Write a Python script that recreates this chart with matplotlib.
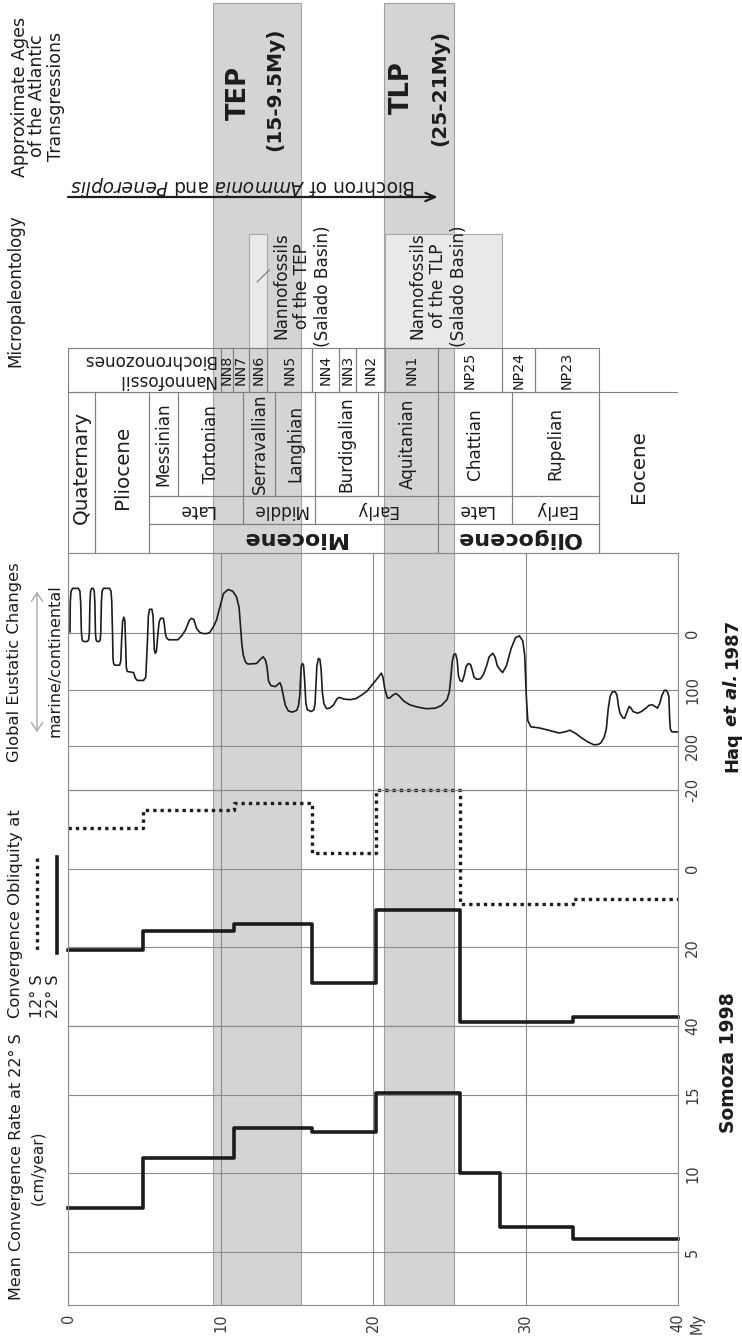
import matplotlib
matplotlib.use("Agg")
import matplotlib.pyplot as plt
from matplotlib.patches import Rectangle
from matplotlib.lines import Line2D

W, H, DPI = 742, 1340, 100
plt.rcParams['font.family'] = ['DejaVu Sans']
plt.rcParams['axes.unicode_minus'] = False
plt.rcParams['mathtext.fontset'] = 'dejavusans'

# ---------------------------------------------------------------- data
time_ticks = [0, 10, 20, 30, 40]
time_tick_labels = ["0", "10", "20", "30", "40"]

tep_band = (9.5, 15.3)     # TEP (15-9.5 My)
tlp_band = (20.7, 25.3)    # TLP (25-21 My)
biochron = (0.0, 24.25)    # Biochron of Ammonia and Peneroplis

# Mean convergence rate at 22 S (cm/yr), Somoza 1998 (step breakpoints)
conv_t = [0, 4.9, 10.9, 16.0, 20.2, 25.7, 28.3, 33.1, 40]
conv_rate = [7.8, 11.0, 12.9, 12.6, 15.1, 10.0, 6.6, 5.8]
conv_ticks = [5, 10, 15]

# Convergence obliquity (deg)
obl_t = [0, 4.9, 10.9, 16.0, 20.2, 25.7, 33.1, 40]
obl_12S = [-10.4, -15.0, -16.8, -4.0, -20.0, 8.9, 7.6]
obl_22S = [20.6, 15.8, 14.0, 29.0, 10.4, 39.0, 37.7]
obl_ticks = [-20, 0, 20, 40]

# Global eustatic changes, Haq et al. 1987
eus_t = [0.13, 0.15, 0.2, 0.3, 0.68, 0.78, 0.83, 0.88, 0.93, 1.0, 1.28, 1.35, 1.4,
         1.44, 1.48, 1.55, 1.65, 1.72, 1.76, 1.8, 1.84, 1.9, 2.05, 2.11, 2.15, 2.19,
         2.24, 2.32, 2.72, 2.82, 2.87, 2.92, 2.95, 3.0, 3.08, 3.38, 3.46, 3.52, 3.58,
         3.66, 3.73, 3.78, 3.82, 3.88, 4.1, 4.3, 4.42, 4.55, 4.95, 5.1, 5.2, 5.27,
         5.35, 5.5, 5.58, 5.62, 5.66, 5.72, 5.8, 5.9, 5.98, 6.08, 6.25, 6.32, 6.38,
         6.45, 6.6, 7.2, 7.45, 7.7, 7.95, 8.1, 8.25, 8.43, 8.65, 8.87, 9.1, 9.3, 9.55,
         9.74, 9.95, 10.2, 10.5, 10.8, 11.05, 11.22, 11.32, 11.4, 11.5, 11.65, 11.8,
         12.36, 12.6, 12.8, 12.95, 13.05, 13.15, 13.3, 13.6, 13.8, 13.9, 14.0, 14.1,
         14.25, 14.45, 14.7, 15.0, 15.12, 15.2, 15.25, 15.3, 15.38, 15.45, 15.52,
         15.6, 15.7, 15.95, 16.12, 16.2, 16.26, 16.32, 16.42, 16.52, 16.6, 16.68,
         16.78, 16.95, 17.15, 17.4, 17.65, 17.8, 18.1, 18.5, 18.9, 19.3, 19.6, 20.0,
         20.3, 20.55, 20.65, 20.78, 20.95, 21.1, 21.3, 21.5, 21.7, 22.0, 22.4, 22.9,
         23.5, 24.1, 24.5, 24.85, 25.0, 25.1, 25.2, 25.3, 25.42, 25.52, 25.6, 25.7,
         25.85, 25.98, 26.1, 26.25, 26.4, 26.5, 26.62, 26.8, 27.05, 27.25, 27.45,
         27.62, 27.85, 28.0, 28.15, 28.3, 28.5, 28.75, 29.05, 29.35, 29.6, 29.82,
         29.95, 30.05, 30.15, 30.35, 30.9, 31.5, 32.2, 32.6, 32.9, 33.3, 33.7, 34.1,
         34.5, 34.8, 34.95, 35.15, 35.3, 35.42, 35.55, 35.7, 35.88, 36.0, 36.1, 36.2,
         36.38, 36.5, 36.65, 36.8, 36.92, 37.05, 37.35, 37.6, 37.9, 38.1, 38.3, 38.5,
         38.65, 38.8, 38.95, 39.1, 39.2, 39.3, 39.4, 39.45, 39.5, 39.6, 40.0]
eus_v = [-2, -55, -74, -79, -79, -74, -55, 0, 12, 15, 15, 12, 0,
         -55, -74, -79, -79, -74, -55, 0, 12, 15, 15, 12, 0, -55,
         -74, -79, -79, -74, -55, 0, 45, 55, 57, 57, 50, 10, -20,
         -28, -22, 20, 60, 68, 69, 70, 80, 84, 84, 78, 20, -30,
         -42, -42, -30, 0, 30, 36, 32, 0, -20, -26, -26, -15, 0,
         8, 12, 12, 5, -5, -22, -26, -24, -8, -1, 1, 1, -1, -12,
         -23, -45, -70, -77, -74, -64, -45, -10, 20, 40, 52, 55,
         54, 47, 42, 48, 60, 85, 93, 95, 90, 88, 95, 108,
         128, 138, 140, 137, 128, 110, 80, 58, 54, 58, 85,
         125, 136, 139, 136, 125, 90, 58, 45, 47, 65, 105,
         125, 134, 133, 128, 116, 114, 117, 118, 116, 109, 103, 90,
         80, 71, 78, 100, 115, 115, 110, 107, 111, 120, 127, 131,
         134, 133, 128, 118, 105, 80, 50, 38, 37, 48, 75, 84,
         86, 75, 60, 54, 56, 65, 78, 82, 81, 73, 58,
         42, 36, 42, 58, 64, 70, 58, 28, 8, 5, 14,
         40, 110, 155, 166, 168, 172, 177, 175, 172, 178, 186, 193,
         198, 197, 194, 185, 170, 135, 112, 104, 104, 110, 130, 142,
         150, 151, 140, 130, 133, 139, 142, 139, 133, 128, 127, 130,
         133, 125, 110, 102, 101, 104, 112, 150, 170, 175, 175]
eus_ticks = [0, 100, 200]

# Stratigraphy (My)
full_names = ["Quaternary", "Pliocene", "Eocene"]
full_bounds = [(0.0, 1.8), (1.8, 5.3), (34.8, 40.0)]
stage_names = ["Messinian", "Tortonian", "Serravallian", "Langhian",
               "Burdigalian", "Aquitanian", "Chattian", "Rupelian"]
stage_bounds = [5.3, 7.2, 11.5, 13.6, 16.2, 20.3, 24.25, 29.1, 34.8]
sub_names = ["Late", "Middle", "Early", "Late", "Early"]
sub_bounds = [(5.3, 11.5), (11.5, 16.2), (16.2, 24.25), (24.25, 29.1), (29.1, 34.8)]
epoch_names = ["Miocene", "Oligocene"]
epoch_bounds = [(5.3, 24.25), (24.25, 34.8)]
nanno_names = ["NN8", "NN7", "NN6", "NN5", "NN4", "NN3", "NN2", "NN1",
               "NP25", "NP24", "NP23"]
nanno_bounds = [10.0, 10.8, 11.9, 13.05, 16.0, 17.8, 18.9, 20.8, 24.25, 28.45, 30.6, 34.8]
nanno_tep = (11.9, 13.05)
nanno_tlp = (20.8, 28.45)

# ---------------------------------------------------------------- layout
fig = plt.figure(figsize=(W / DPI, H / DPI), dpi=DPI)
fig.patch.set_facecolor('white')
X0, X1 = 68, 678
INK = '#1c1c1c'
GRID = '#8c8c8c'
EDGE = '#808080'
BAND = '#d4d4d4'
TICKC = '#3a3a3a'


def px_axes(y0, y1):
    return fig.add_axes([X0 / W, 1 - y1 / H, (X1 - X0) / W, (y1 - y0) / H])


def ftext(x, y, s, **kw):
    kw.setdefault('color', INK)
    return fig.text(x / W, 1 - y / H, s, **kw)


# background axis: x = My, y = pixel rows
axs = px_axes(0, 1305)
axs.set_xlim(0, 40)
axs.set_ylim(1305, 0)
axs.axis('off')

for a, b in (tep_band, tlp_band):
    axs.add_patch(Rectangle((a, 3), b - a, 1302, fc=BAND, ec='#a2a2a2', lw=0.8, zorder=0))

R_NN = (348, 392)
R_ST = (392, 496)
R_SUB = (496, 524)
R_EP = (524, 553)
R_FULL = (392, 553)


def cell(a, b, r):
    axs.add_patch(Rectangle((a, r[0]), b - a, r[1] - r[0], fill=False,
                            ec=EDGE, lw=0.8, zorder=3))


# light nannofossil boxes (above band)
for a, b in (nanno_tep, nanno_tlp):
    axs.add_patch(Rectangle((a, 234), b - a, 348 - 234, fc='#e9e9e9',
                            ec='#a8a8a8', lw=0.8, zorder=2))
axs.add_line(Line2D([12.4, 13.2], [282, 270], color='#777777', lw=0.8, zorder=3))

# nannofossil biochronozones row
cell(0, nanno_bounds[0], R_NN)
for i, name in enumerate(nanno_names):
    a, b = nanno_bounds[i], nanno_bounds[i + 1]
    cell(a, b, R_NN)
    axs.text((a + b) / 2, 370, name, rotation=90, ha='center', va='center',
             fontsize=10.3, color=INK, zorder=4)
ftext(215, 360, "Biochronozones", rotation=180, ha='right', va='center', fontsize=12.2)
ftext(215, 380, "Nannofossil", rotation=180, ha='right', va='center', fontsize=12.2)

# full-height epochs
for name, (a, b) in zip(full_names, full_bounds):
    cell(a, b, R_FULL)
    axs.text((a + b) / 2, 467, name, rotation=90, ha='center', va='center',
             fontsize=14.3, color=INK, zorder=4)
# stages
for i, name in enumerate(stage_names):
    a, b = stage_bounds[i], stage_bounds[i + 1]
    cell(a, b, R_ST)
    axs.text((a + b) / 2, 444, name, rotation=90, ha='center', va='center',
             fontsize=12.2, color=INK, zorder=4)
# sub-epochs
for name, (a, b) in zip(sub_names, sub_bounds):
    cell(a, b, R_SUB)
    axs.text((a + b) / 2, 510, name, rotation=180, ha='center', va='center',
             fontsize=12.2, color=INK, zorder=4)
# epochs
for name, (a, b) in zip(epoch_names, epoch_bounds):
    cell(a, b, R_EP)
    axs.text((a + b) / 2, 538.5, name, rotation=180, ha='center', va='center',
             fontsize=16, fontweight='bold', color=INK, zorder=4)

# biochron arrow
axs.annotate('', xy=(biochron[1], 197), xytext=(biochron[0], 197),
             arrowprops=dict(arrowstyle='->,head_length=0.7,head_width=0.3', lw=1.6,
                             color=INK, shrinkA=0, shrinkB=0),
             annotation_clip=False)
ftext(243, 185, r'Biochron of $\mathit{Ammonia}$ and $\mathit{Peneroplis}$',
      rotation=180, ha='center', va='center', fontsize=13.4)

# ---------------------------------------------------------------- panels


def setup_panel(ax, ylim, yticks):
    ax.set_facecolor('none')
    ax.set_xlim(0, 40)
    ax.set_ylim(*ylim)
    ax.set_xticks(time_ticks)
    ax.set_yticks(yticks)
    ax.grid(True, color=GRID, lw=0.8)
    ax.set_axisbelow(True)
    for sp in ax.spines.values():
        sp.set_color(GRID)
        sp.set_linewidth(0.8)
    ax.tick_params(length=0, labelbottom=False, labelleft=False, labelright=True,
                   labelcolor=TICKC, labelsize=10.5, pad=5)
    ax.set_yticklabels([str(v) for v in yticks], rotation=90, va='center')


def eus_val(y):
    return (y - 633) / 0.565


def conv_val(y):
    return 5 + (1252 - y) / 15.75


ax_eus = px_axes(553, 790)
setup_panel(ax_eus, (eus_val(790), eus_val(553)), eus_ticks)
ax_eus.plot(eus_t, eus_v, color=INK, lw=1.2, solid_joinstyle='round')

ax_obl = px_axes(790, 1026)
setup_panel(ax_obl, (40, -20), obl_ticks)
ax_obl.plot(obl_t, obl_12S + [obl_12S[-1]], drawstyle='steps-post', color=INK,
            lw=2.4, ls=(0, (1, 1.2)), clip_on=False)
ax_obl.plot(obl_t, obl_22S + [obl_22S[-1]], drawstyle='steps-post', color=INK,
            lw=2.6, clip_on=False)

ax_conv = px_axes(1026, 1305)
setup_panel(ax_conv, (conv_val(1305), conv_val(1026)), conv_ticks)
ax_conv.plot(conv_t, conv_rate + [conv_rate[-1]], drawstyle='steps-post', color=INK,
             lw=2.6, clip_on=False)
ax_conv.tick_params(axis='x', labelbottom=True, pad=6)
ax_conv.set_xticklabels(time_tick_labels, rotation=90)
ftext(697, 1313, "My", rotation=90, ha='center', va='top', fontsize=10.5, color=TICKC)

# ---------------------------------------------------------------- header texts
ftext(20, 97, "Approximate Ages", rotation=90, ha='center', va='center', fontsize=12.5)
ftext(37, 96, "of the Atlantic", rotation=90, ha='center', va='center', fontsize=12.5)
ftext(56, 96, "Transgressions", rotation=90, ha='center', va='center', fontsize=12.5)

ftext(239, 93.5, "TEP", rotation=90, ha='center', va='center', fontsize=18.5, fontweight='bold')
ftext(275, 89, "(15-9.5My)", rotation=90, ha='center', va='center', fontsize=14.5, fontweight='bold')
ftext(402, 87.5, "TLP", rotation=90, ha='center', va='center', fontsize=18.5, fontweight='bold')
ftext(439.5, 87.5, "(25-21My)", rotation=90, ha='center', va='center', fontsize=14.5, fontweight='bold')

ftext(15, 367, "Micropaleontology", rotation=90, ha='center', va='bottom', fontsize=12)

for xc, lines in ((302, ["Nannofossils", "of the TEP", "(Salado Basin)"]),
                  (438, ["Nannofossils", "of the TLP", "(Salado Basin)"])):
    for k, s in enumerate(lines):
        ftext(xc + (k - 1) * 21, 286, s, rotation=90, ha='center', va='center', fontsize=12.2)

ftext(15, 662, "Global Eustatic Changes", rotation=90, ha='center', va='center', fontsize=11.8)
ftext(55, 661, "marine/continental", rotation=90, ha='center', va='center', fontsize=11.5)
fig.add_artist(matplotlib.patches.FancyArrowPatch(
    (37 / W, 1 - 735 / H), (37 / W, 1 - 589 / H), transform=fig.transFigure,
    arrowstyle='<->,head_length=6,head_width=4', color='#a8a8a8', lw=1.0))

ftext(15.5, 1018, "Convergence Obliquity at", rotation=90, ha='center', va='bottom', fontsize=11.8)
ftext(37.5, 1018, "12° S", rotation=90, ha='center', va='bottom', fontsize=11.5)
ftext(53.5, 1018, "22° S", rotation=90, ha='center', va='bottom', fontsize=11.5)
fig.add_artist(Line2D([37 / W, 37 / W], [1 - 858 / H, 1 - 952 / H], transform=fig.transFigure,
                      color=INK, lw=2.4, ls=(0, (1, 1.2))))
fig.add_artist(Line2D([57 / W, 57 / W], [1 - 857 / H, 1 - 953 / H], transform=fig.transFigure,
                      color=INK, lw=2.6))

ftext(16, 1167, "Mean Convergence Rate at 22° S", rotation=90, ha='center', va='center', fontsize=11.5)
ftext(38, 1168, "(cm/year)", rotation=90, ha='center', va='center', fontsize=11)

# ---------------------------------------------------------------- credits
ftext(729, 1063, "Somoza 1998", rotation=90, ha='center', va='center', fontsize=13.5, fontweight='bold')

renderer = fig.canvas.get_renderer()
pieces = [("Haq", {}), ("et al.", {'style': 'italic'}), ("1987", {})]
arts, lens = [], []
for s, kw in pieces:
    t = ftext(737, 695, s, rotation=90, rotation_mode='anchor', ha='left', va='baseline',
              fontsize=13, fontweight='bold', **kw)
    arts.append(t)
    lens.append(t.get_window_extent(renderer).height)
gap = 0.35 * 13 * DPI / 72
total = sum(lens) + gap * (len(lens) - 1)
ystart = 695 + total / 2
for t, L in zip(arts, lens):
    t.set_position((737 / W, 1 - ystart / H))
    ystart -= L + gap

fig.savefig("out.png", dpi=DPI, facecolor='white')
